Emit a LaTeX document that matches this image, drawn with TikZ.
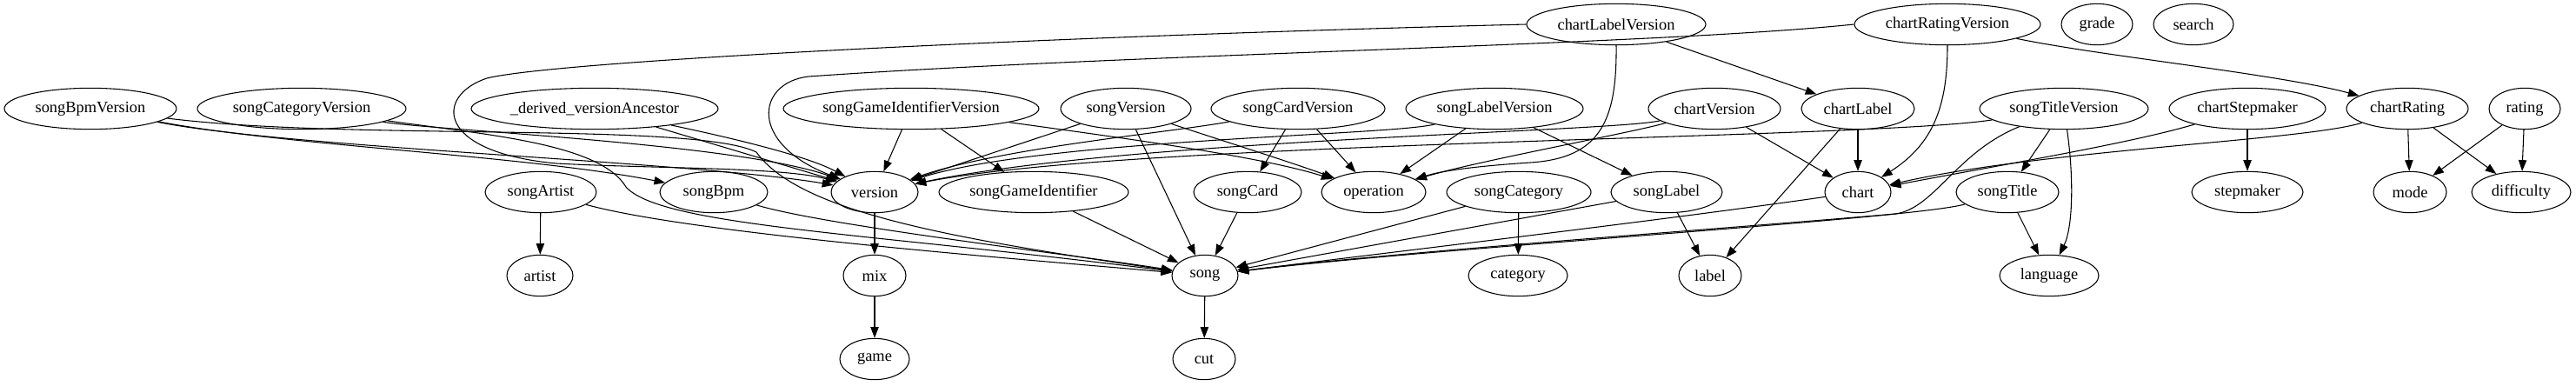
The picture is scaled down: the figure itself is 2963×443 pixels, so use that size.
\documentclass[tikz,border=0pt]{standalone}
\usepackage{fontspec}
\setmainfont{Liberation Serif}
\usetikzlibrary{shapes.geometric,arrows.meta}
\newcommand\nd[5]{\node[ent, minimum width={#4*1.5pt}] (#1) at (#2,#3) {#5};}
\begin{document}
\begin{tikzpicture}[x=0.75pt,y=-0.75pt,
  ent/.style={draw, ellipse, line width=0.8pt, inner sep=0pt, minimum height=35.5pt, font=\fontsize{13.8}{16}\selectfont},
  e/.style={draw, line width=0.8pt, -{Triangle[length=9.5pt,width=7pt]}}]
\useasboundingbox (0,0) rectangle (2963,443);
% row 0
\nd{cLV}{1859}{28}{103}{chartLabelVersion}
\nd{cRV}{2240}{28}{107}{chartRatingVersion}
\nd{grade}{2412}{28}{41}{grade}
\nd{search}{2523}{28}{46}{search}
% row 1
\nd{sBV}{104}{125}{99}{songBpmVersion}
\nd{sCV}{347}{125}{120}{songCategoryVersion}
\nd{dva}{684}{125}{142}{\_derived\_versionAncestor}
\nd{sGIV}{1048}{125}{147}{songGameIdentifierVersion}
\nd{sV}{1295}{125}{75}{songVersion}
\nd{sCdV}{1493}{125}{100}{songCardVersion}
\nd{sLV}{1719}{125}{102}{songLabelVersion}
\nd{cV}{1972}{125}{76}{chartVersion}
\nd{chartLabel}{2137}{125}{65}{chartLabel}
\nd{sTV}{2374}{125}{97}{songTitleVersion}
\nd{cSm}{2585}{125}{90}{chartStepmaker}
\nd{cR}{2769}{125}{70}{chartRating}
\nd{rating}{2904}{125}{41}{rating}
% row 2
\nd{songArtist}{622}{221}{64}{songArtist}
\nd{songBpm}{821}{221}{62}{songBpm}
\nd{version}{1006}{221}{50}{version}
\nd{sGI}{1189}{221}{109}{songGameIdentifier}
\nd{songCard}{1435}{221}{62}{songCard}
\nd{operation}{1580}{221}{60}{operation}
\nd{songCategory}{1747}{221}{83}{songCategory}
\nd{songLabel}{1917}{221}{64}{songLabel}
\nd{chart}{2137}{221}{38}{chart}
\nd{songTitle}{2309}{221}{59}{songTitle}
\nd{stepmaker}{2585}{221}{64}{stepmaker}
\nd{mode}{2772}{221}{42}{mode}
\nd{difficulty}{2900}{221}{57}{difficulty}
% row 3
\nd{artist}{621}{317}{38}{artist}
\nd{mix}{1006}{317}{36}{mix}
\nd{song}{1386}{317}{38}{song}
\nd{category}{1746}{317}{57}{category}
\nd{label}{1967}{317}{36}{label}
\nd{language}{2357}{317}{57}{language}
% row 4
\nd{game}{1006}{413}{40}{game}
\nd{cut}{1385}{413}{36}{cut}
% edges
\draw[e] (sBV) .. controls (330,168) and (600,178) .. (songBpm);
\draw[e] (sBV) .. controls (330,170) and (800,186) .. (version);
\draw[e] (sBV) .. controls (400,162) and (800,140) .. (870,175) .. controls (920,245) and (1100,275) .. (song);
\draw[e] (sCV) .. controls (500,150) and (850,165) .. (version);
\draw[e] (sCV) .. controls (560,155) and (690,165) .. (720,215) .. controls (760,260) and (1000,268) .. (song);
\draw[e] (dva) -- (version);
\draw[e] (dva) .. controls (800,150) and (920,175) .. (version);
\draw[e] (sGIV) -- (version);
\draw[e] (sGIV) -- (sGI);
\draw[e] (sGIV) .. controls (1300,160) and (1450,180) .. (operation);
\draw[e] (sV) -- (version);
\draw[e] (sV) -- (song);
\draw[e] (sV) .. controls (1400,160) and (1480,185) .. (operation);
\draw[e] (sCdV) .. controls (1350,152) and (1150,170) .. (version);
\draw[e] (sCdV) -- (songCard);
\draw[e] (sCdV) -- (operation);
\draw[e] (sLV) .. controls (1600,156) and (1200,160) .. (version);
\draw[e] (sLV) -- (operation);
\draw[e] (sLV) -- (songLabel);
\draw[e] (cV) .. controls (1850,152) and (1300,160) .. (version);
\draw[e] (cV) .. controls (1880,152) and (1700,185) .. (operation);
\draw[e] (cV) -- (chart);
\draw[e] (sTV) .. controls (2150,160) and (1300,162) .. (version);
\draw[e] (sTV) -- (songTitle);
\draw[e] (sTV) .. controls (2385,200) and (2385,260) .. (language);
\draw[e] (sTV) .. controls (2250,175) and (2225,240) .. (2180,246) .. controls (2000,262) and (1600,290) .. (song);
\draw[e] (cLV.west) .. controls (1200,42) and (640,70) .. (560,90) .. controls (500,110) and (500,175) .. (640,188) .. controls (750,194) and (900,192) .. (version);
\draw[e] (cLV.south) .. controls (1860,140) and (1840,182) .. (1760,187) .. controls (1700,191) and (1660,196) .. (operation);
\draw[e] (cLV) -- (chartLabel);
\draw[e] (cRV.west) .. controls (1900,52) and (1300,62) .. (930,88) .. controls (870,95) and (860,165) .. (version);
\draw[e] (cRV.south) .. controls (2240,120) and (2225,165) .. (chart);
\draw[e] (cRV) .. controls (2420,65) and (2620,85) .. (cR);
\draw[e] (chartLabel) -- (chart);
\draw[e] (chartLabel) -- (label);
\draw[e] (cSm) .. controls (2450,165) and (2300,190) .. (chart);
\draw[e] (cSm) -- (stepmaker);
\draw[e] (cR) .. controls (2650,162) and (2350,172) .. (chart);
\draw[e] (cR) -- (mode);
\draw[e] (cR) -- (difficulty);
\draw[e] (rating) -- (mode);
\draw[e] (rating) -- (difficulty);
\draw[e] (songArtist) -- (artist);
\draw[e] (songArtist) .. controls (800,270) and (1200,300) .. (song);
\draw[e] (songBpm) .. controls (950,260) and (1250,295) .. (song);
\draw[e] (version) -- (mix);
\draw[e] (mix) -- (game);
\draw[e] (sGI) -- (song);
\draw[e] (songCard) -- (song);
\draw[e] (songCategory) -- (song);
\draw[e] (songCategory) -- (category);
\draw[e] (songLabel) -- (song);
\draw[e] (songLabel) -- (label);
\draw[e] (chart) .. controls (1900,255) and (1600,290) .. (song);
\draw[e] (songTitle) .. controls (2200,252) and (1650,285) .. (song);
\draw[e] (songTitle) -- (language);
\draw[e] (song) -- (cut);
\end{tikzpicture}
\end{document}
